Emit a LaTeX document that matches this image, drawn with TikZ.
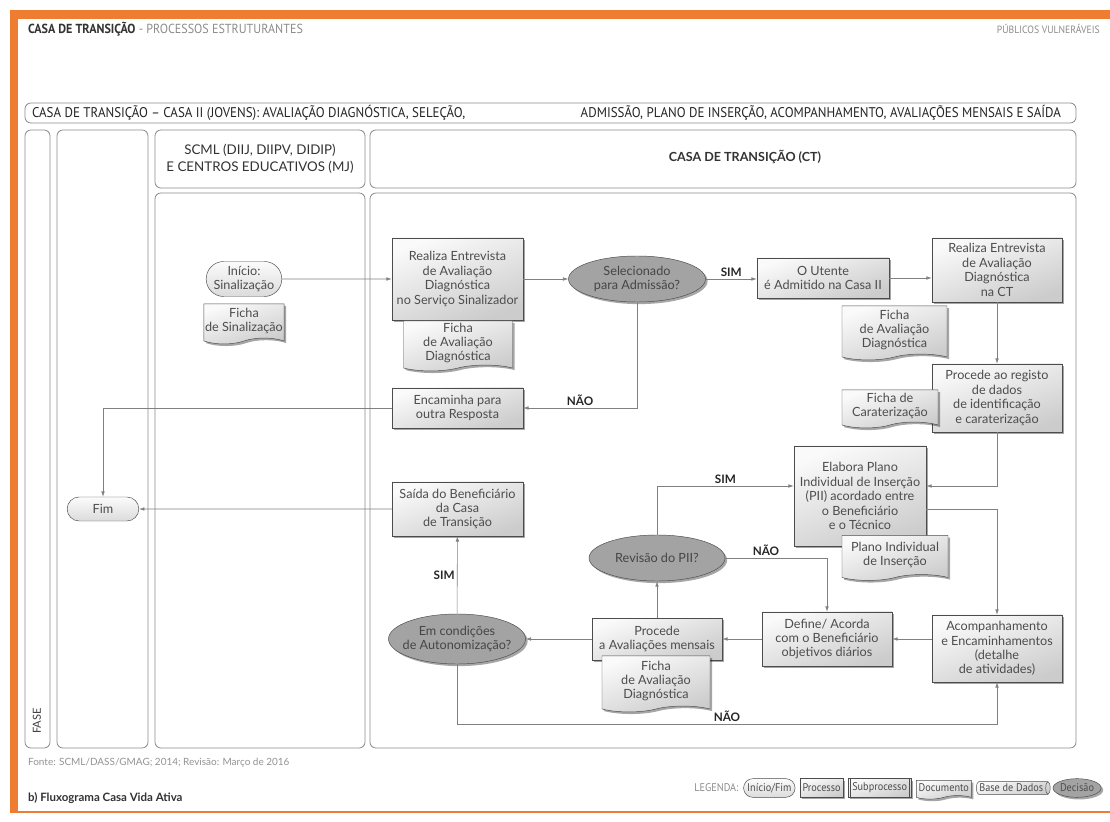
\documentclass[tikz,border=0pt]{standalone}
\usepackage{fontspec}
\setmainfont{Lato}
\newfontfamily\condfont[FakeStretch=0.92]{PT Sans}
\usetikzlibrary{positioning,arrows.meta,shadows,shapes.misc,shapes.symbols,shapes.geometric}

\definecolor{casaorange}{HTML}{EE7D31}
\definecolor{lanegray}{HTML}{8C8C8C}
\definecolor{txtgray}{HTML}{4D4D4D}
\definecolor{linegray}{HTML}{808080}
\definecolor{decgray}{HTML}{A3A3A3}

\newcommand{\boxfont}{\fontsize{10.8}{12.3}\selectfont}
\newcommand{\condhead}{\condfont\fontsize{11.2}{12}\selectfont}
\newcommand{\condtitle}{\condfont\fontsize{12}{13}\selectfont}

\tikzset{
  lane/.style={draw=lanegray, line width=0.7pt, rounded corners=5pt},
  boxshade/.style={top color=gray!4, bottom color=gray!40, shading angle=20},
  shadowed/.style={drop shadow={shadow xshift=1.8pt, shadow yshift=-1.8pt, fill=black, opacity=0.35}},
  proc/.style={rectangle, draw=gray!60!black, line width=0.4pt, boxshade, shadowed,
    align=center, font=\boxfont, text=txtgray, inner sep=1pt},
  doc/.style={tape, tape bend top=none, tape bend bottom=in and out, tape bend height=5pt,
    draw=gray!60!black, line width=0.4pt, boxshade, shadowed,
    align=center, font=\boxfont, text=txtgray, inner sep=1pt},
  decision/.style={ellipse, draw=gray!60!black, line width=0.4pt, fill=decgray, shadowed,
    align=center, font=\boxfont, text=txtgray!90!black, inner sep=1pt},
  term/.style={rounded rectangle, draw=gray!60!black, line width=0.4pt,
    top color=gray!3, bottom color=gray!28, align=center, font=\boxfont, text=txtgray, inner sep=1pt},
  flow/.style={draw=linegray, line width=0.5pt, -{Latex[length=4.5pt,width=3pt]}},
  answer/.style={font=\fontsize{10}{11}\selectfont\bfseries, text=black!85, inner sep=2pt},
  lanehead/.style={font=\fontsize{11.4}{14}\selectfont, text=black!80, align=center},
  legitem/.style={font=\condfont\fontsize{9.5}{10}\selectfont, text=txtgray, inner sep=2pt, minimum height=0.56cm}
}

\begin{document}
\begin{tikzpicture}[x=0.03cm, y=-0.03cm]

\fill[white] (0,0) rectangle (1110,822);
\useasboundingbox (0,0) rectangle (1110,822);

% orange frame
\fill[casaorange] (10,10) rectangle (1110,19);
\fill[casaorange] (10,10) rectangle (18,812);
\draw[casaorange, line width=1pt] (10,812) -- (1110,812);

\node[anchor=west, font=\condhead, text=gray!90] (tophdr) at (24,29)
  {\textcolor{black!80}{\textbf{CASA DE TRANSIÇÃO}} - PROCESSOS ESTRUTURANTES};
\node[anchor=east, font=\condfont\fontsize{9}{10}\selectfont, text=gray!90] (publicos) at (1104,29) {PÚBLICOS VULNERÁVEIS};

% title and lanes
\draw[lane] (25,103) rectangle (1076,123);
\node[anchor=west, font=\condtitle, text=black!85] (titlea) at (28,113)
  {CASA DE TRANSIÇÃO – CASA II (JOVENS): AVALIAÇÃO DIAGNÓSTICA, SELEÇÃO,};
\node[anchor=east, font=\condtitle, text=black!85] (titleb) at (1065,113)
  {ADMISSÃO, PLANO DE INSERÇÃO, ACOMPANHAMENTO, AVALIAÇÕES MENSAIS E SAÍDA};

\draw[lane] (25,130) rectangle (50,748);
\draw[lane] (57,130) rectangle (148,748);
\draw[lane] (155,130) rectangle (365,188);
\draw[lane] (155,193) rectangle (365,748);
\draw[lane] (370,130) rectangle (1076,188);
\draw[lane] (370,193) rectangle (1076,748);

\node[lanehead] (scml) at (260,159) {SCML (DIIJ, DIIPV, DIDIP)\\E CENTROS EDUCATIVOS (MJ)};
\node[lanehead, font=\fontsize{10.7}{13}\selectfont\bfseries] (ct) at (745,157) {CASA DE TRANSIÇÃO (CT)};
\node[rotate=90, font=\fontsize{9.5}{10}\selectfont, text=black!75] (fase) at (37,721) {FASE};

% first row
\node[term, minimum width=2.34cm, minimum height=1.05cm] (inicio) at (244,279) {Início:\\Sinalização};
\node[doc, minimum width=2.34cm, minimum height=1.2cm] (fichasin) at (244,321) {Ficha\\de Sinalização};

\node[proc, minimum width=3.93cm, minimum height=2.46cm] (real1) at (457.5,279)
  {Realiza Entrevista\\de Avaliação\\Diagnóstica\\no Serviço Sinalizador};
\node[doc, minimum width=3.27cm, minimum height=1.5cm] (fichaav1) at (458,343)
  {Ficha\\de Avaliação\\Diagnóstica};

\node[decision, minimum width=4.11cm, minimum height=1.38cm] (selec) at (637,279)
  {Selecionado\\para Admissão?};

\node[proc, minimum width=3.96cm, minimum height=1.2cm] (utente) at (823,278)
  {O Utente\\é Admitido na Casa II};

\node[proc, minimum width=3.9cm, minimum height=1.92cm] (realct) at (997,270)
  {Realiza Entrevista\\de Avaliação\\Diagnóstica\\na CT};
\node[doc, minimum width=3.15cm, minimum height=1.62cm] (fichaav2) at (894.5,330)
  {Ficha\\de Avaliação\\Diagnóstica};

\node[proc, minimum width=3.9cm, minimum height=2.04cm] (registo) at (997,398)
  {Procede ao registo\\de dados\\de identificação\\e caraterização};
\node[doc, minimum width=2.88cm, minimum height=1.14cm] (fichacar) at (890,406)
  {Ficha de\\Caraterização};

\node[proc, minimum width=3.93cm, minimum height=1.2cm] (encam) at (457.5,408)
  {Encaminha para\\outra Resposta};

% lower part
\node[term, minimum width=2.22cm, minimum height=0.72cm] (fim) at (103,509) {Fim};
\node[proc, minimum width=3.93cm, minimum height=1.62cm] (saida) at (457.5,509)
  {Saída do Beneficiário\\da Casa\\de Transição};

\node[proc, minimum width=3.96cm, minimum height=3cm] (elabora) at (860,496)
  {Elabora Plano\\Individual de Inserção\\(PII) acordado entre\\o Beneficiário\\e o Técnico};
\node[doc, minimum width=3.18cm, minimum height=1.35cm] (plano) at (895,555)
  {Plano Individual\\de Inserção};

\node[decision, minimum width=4.08cm, minimum height=1.38cm] (revisao) at (657,558) {Revisão do PII?};

\node[decision, inner xsep=-6pt, minimum width=4.11cm, minimum height=1.5cm] (emcond) at (457,639)
  {Em condições\\de Autonomização?};
\node[proc, minimum width=3.9cm, minimum height=1.26cm] (procav) at (657,639)
  {Procede\\a Avaliações mensais};
\node[doc, minimum width=3.24cm, minimum height=1.68cm] (fichaav3) at (656,681)
  {Ficha\\de Avaliação\\Diagnóstica};
\node[proc, minimum width=3.9cm, minimum height=1.62cm] (define) at (827,639)
  {Define/ Acorda\\com o Beneficiário\\objetivos diários};
\node[proc, minimum width=3.9cm, minimum height=2.01cm] (acomp) at (997,648.5)
  {Acompanhamento\\e Encaminhamentos\\(detalhe\\de atividades)};

% connectors
\draw[flow] (inicio) -- (real1);
\draw[flow] (real1) -- (selec);
\draw[flow] (selec) -- node[answer, above] {SIM} (utente.west |- selec);
\draw[flow] (utente.east) -- (utente.east -| realct.west);
\draw[flow] (realct) -- (registo);
\draw[flow] (selec.south) |- node[answer, pos=0.75, above] {NÃO} (encam.east);
\draw[flow] (encam.west) -| (fim.north);
\draw[flow] (registo.south) |- ([yshift=0.3cm]elabora.east);
\draw[flow] ([yshift=-0.39cm]elabora.east) -| (acomp.north);
\draw[flow] (acomp.west |- define) -- (define.east);
\draw[flow] (define) -- (procav);
\draw[flow] (procav) -- (emcond);
\draw[flow] (procav) -- (revisao);
\draw[flow] (revisao.north) |- node[answer, pos=0.75, above] {SIM} ([yshift=0.3cm]elabora.west);
\draw[flow] (revisao.east) -| node[answer, pos=0.2, above] {NÃO} (define.north);
\draw[flow] (emcond) -- node[answer, left] {SIM} (saida);
\draw[flow] (emcond.south) -- ++(0,60) -| node[answer, pos=0.25, above] {NÃO} (acomp.south);
\draw[flow] (saida) -- (fim);

% footer and legend
\node[anchor=west, font=\fontsize{8.5}{10}\selectfont, text=gray!85] (fonte) at (24,763)
  {Fonte: SCML/DASS/GMAG; 2014; Revisão: Março de 2016};
\node[anchor=west, font=\fontsize{9.8}{11}\selectfont\bfseries, text=black!80] (fluxo) at (24,798)
  {b) Fluxograma Casa Vida Ativa};

\node[anchor=east, legitem, text=gray!90] (legenda) at (741,788) {LEGENDA:};
\node[term, legitem, right=2pt of legenda] (legterm) {Início/Fim};
\node[proc, legitem, right=4pt of legterm] (legproc) {Processo};
\node[proc, legitem, right=4pt of legproc] (legsub) {\,Subprocesso\,};
\draw[gray!60!black, line width=0.4pt] ([xshift=2pt]legsub.north west) -- ([xshift=2pt]legsub.south west)
  ([xshift=-2pt]legsub.north east) -- ([xshift=-2pt]legsub.south east);
\node[doc, legitem, tape bend height=3pt, right=4pt of legsub] (legdoc) {Documento};
\node[cylinder, shape aspect=0.35, draw=gray!60!black, line width=0.4pt, boxshade, legitem,
  right=4pt of legdoc] (legdb) {Base de Dados};
\node[decision, legitem, inner sep=0pt, right=2pt of legdb] (legdec) {Decisão};

\end{tikzpicture}
\end{document}
